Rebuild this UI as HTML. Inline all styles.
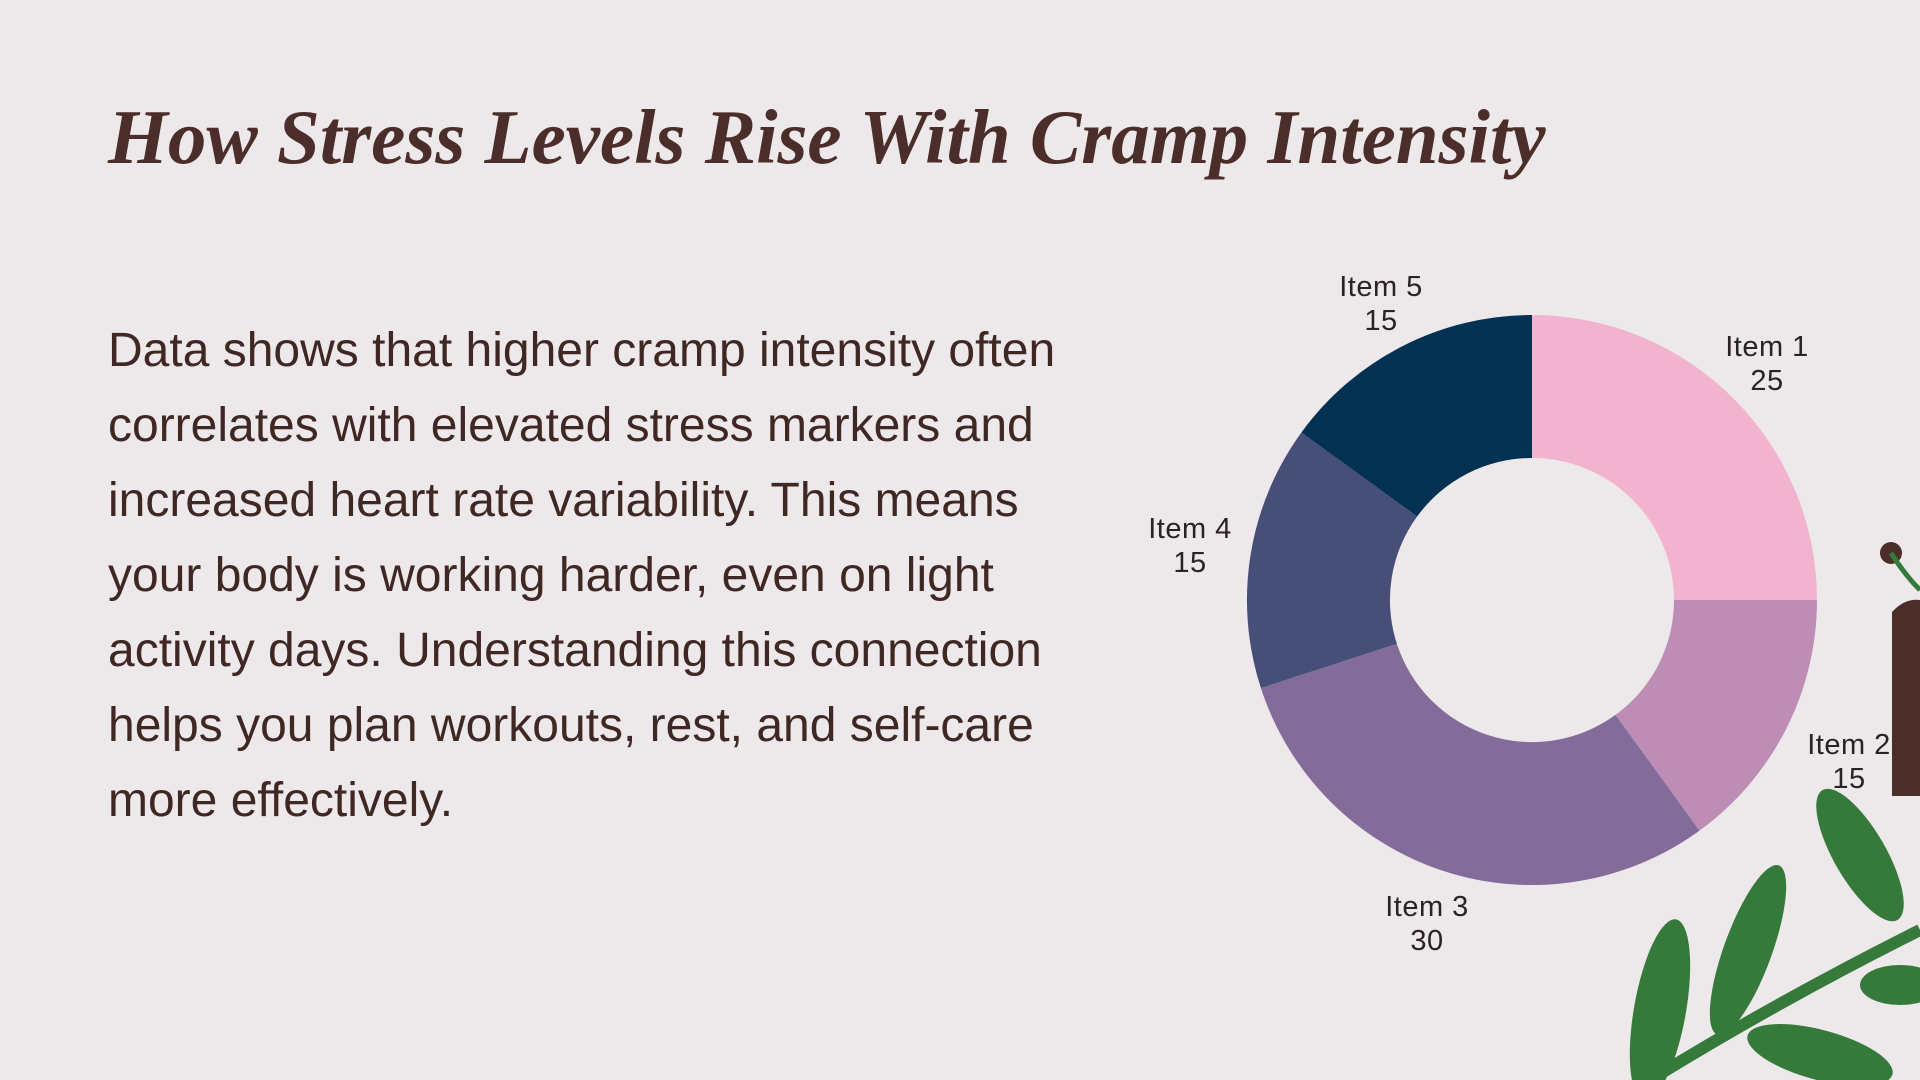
<!DOCTYPE html>
<html><head><meta charset="utf-8"><style>
html,body{margin:0;padding:0;width:1920px;height:1080px;overflow:hidden;background:#ede9ea;}
.t{position:absolute;left:108px;top:93px;font-family:"Liberation Serif",serif;font-weight:bold;font-style:italic;font-size:77px;color:#4b2d2a;letter-spacing:0px;white-space:nowrap;}
.b{position:absolute;left:108px;top:313px;width:985px;font-family:"Liberation Sans",sans-serif;font-size:48px;line-height:75px;color:#3f2724;}
.l{position:absolute;font-family:"Liberation Sans",sans-serif;font-size:29px;letter-spacing:0.5px;line-height:34px;color:#2c2222;text-align:center;width:140px;}
</style></head><body>
<div class="t">How Stress Levels Rise With Cramp Intensity</div>
<div class="b">Data shows that higher cramp intensity often correlates with elevated stress markers and increased heart rate variability. This means your body is working harder, even on light activity days. Understanding this connection helps you plan workouts, rest, and self-care more effectively.</div>
<svg width="1920" height="1080" style="position:absolute;left:0;top:0">
<path d="M1532,315 A285,285 0 0 1 1817,600 L1674,600 A142,142 0 0 0 1532,458 Z" fill="#f2b3cf"/>
<path d="M1817,600 A285,285 0 0 1 1699.5,830.6 L1615.5,714.9 A142,142 0 0 0 1674,600 Z" fill="#be8db5"/>
<path d="M1699.5,830.6 A285,285 0 0 1 1260.9,688.1 L1396.9,643.9 A142,142 0 0 0 1615.5,714.9 Z" fill="#836c99"/>
<path d="M1260.9,688.1 A285,285 0 0 1 1301.4,432.5 L1417.1,516.5 A142,142 0 0 0 1396.9,643.9 Z" fill="#474f78"/>
<path d="M1301.4,432.5 A285,285 0 0 1 1532,315 L1532,458 A142,142 0 0 0 1417.1,516.5 Z" fill="#033152"/>
<path d="M1892,612 Q1905,598 1920,600 L1920,796 L1892,796 Z" fill="#4b2d2a"/>
<circle cx="1891" cy="553" r="11" fill="#4b2d2a"/>
<path d="M1891,553 Q1905,575 1920,590" stroke="#357a3b" stroke-width="5" fill="none"/>
<path d="M1650,1080 Q1780,1000 1920,930" stroke="#357a3b" stroke-width="12" fill="none"/>
<ellipse cx="1660" cy="1010" rx="26" ry="92" transform="rotate(10 1660 1010)" fill="#357a3b"/>
<ellipse cx="1748" cy="950" rx="24" ry="90" transform="rotate(20 1748 950)" fill="#357a3b"/>
<ellipse cx="1860" cy="855" rx="26" ry="75" transform="rotate(-30 1860 855)" fill="#357a3b"/>
<ellipse cx="1820" cy="1055" rx="75" ry="25" transform="rotate(15 1820 1055)" fill="#357a3b"/>
<ellipse cx="1900" cy="985" rx="40" ry="20" fill="#357a3b"/>
</svg>
<div class="l" style="left:1311px;top:270px">Item 5<br>15</div>
<div class="l" style="left:1697px;top:330px">Item 1<br>25</div>
<div class="l" style="left:1120px;top:512px">Item 4<br>15</div>
<div class="l" style="left:1779px;top:728px">Item 2<br>15</div>
<div class="l" style="left:1357px;top:890px">Item 3<br>30</div>
</body></html>
